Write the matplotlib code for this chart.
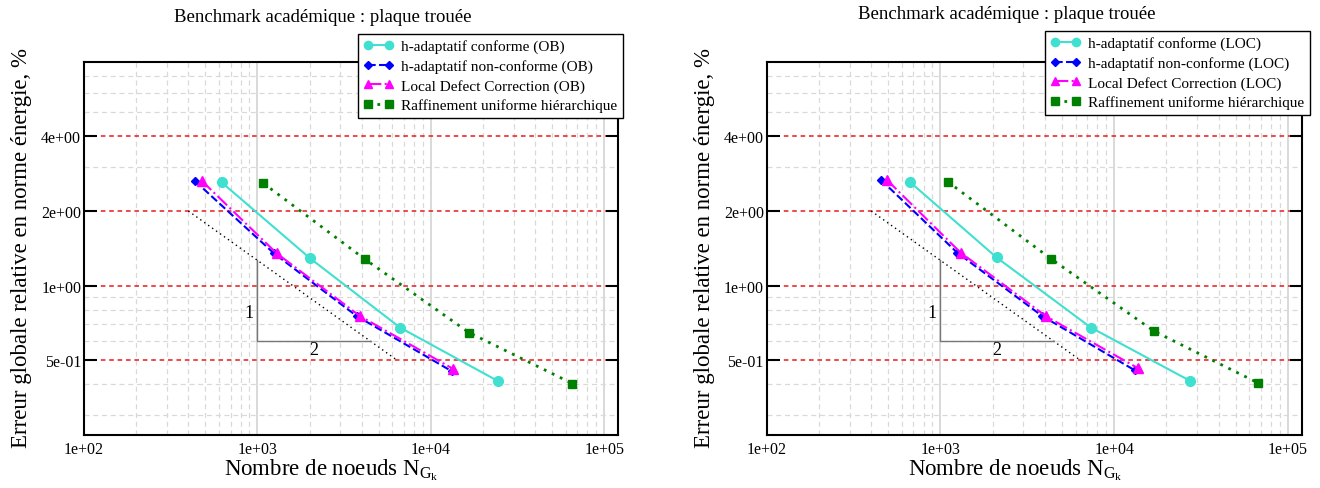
import numpy as np
import matplotlib
matplotlib.use('Agg')
import matplotlib.pyplot as plt
from matplotlib.ticker import FixedLocator, NullFormatter, FuncFormatter

plt.rcParams['font.family'] = ['Liberation Serif', 'DejaVu Serif']
plt.rcParams['mathtext.fontset'] = 'custom'
plt.rcParams['mathtext.rm'] = 'Liberation Serif'
plt.rcParams['mathtext.it'] = 'Liberation Serif:italic'

# Data (nodes, relative error in %)
# left panel : OB estimator
n_conf_ob = [622, 2010, 6640, 24300]
e_conf_ob = [2.61, 1.29, 0.678, 0.413]
n_nc_ob = [437, 1246, 3740, 13200]
e_nc_ob = [2.64, 1.35, 0.754, 0.452]
n_ldc_ob = [477, 1292, 3905, 13430]
e_ldc_ob = [2.65, 1.35, 0.754, 0.462]
n_unif_ob = [1081, 4170, 16600, 65500]
e_unif_ob = [2.59, 1.278, 0.647, 0.403]

# right panel : LOC estimator
n_conf_loc = [665, 2104, 7340, 27400]
e_conf_loc = [2.625, 1.30, 0.678, 0.413]
n_nc_loc = [455, 1248, 3860, 13200]
e_nc_loc = [2.67, 1.36, 0.754, 0.455]
n_ldc_loc = [492, 1306, 4040, 13700]
e_ldc_loc = [2.67, 1.36, 0.754, 0.465]
n_unif_loc = [1102, 4310, 17000, 67500]
e_unif_loc = [2.625, 1.286, 0.655, 0.405]

# slope 1/2 reference line and triangle
ref_n = [400, 6400]
ref_e = [2.0, 0.5]
tri_n = [1000, 1000, 4500]
tri_e = [1.27, 0.6, 0.6]

y_major = [0.5, 1, 2, 4]
y_minor = [0.3, 0.4, 0.6, 0.7, 0.8, 0.9, 3, 5, 6, 7]
x_major = [1e2, 1e3, 1e4, 1e5]
x_minor = [m * 10.0 ** k for k in (2, 3, 4) for m in range(2, 10)]

title = 'Benchmark académique : plaque trouée'
xlabel = r'Nombre de noeuds $\mathrm{N}_{\mathrm{G}_{\mathrm{k}}}$'
ylabel = 'Erreur globale relative en norme énergie, %'


def panel(ax, tag, data, leg_anchor, title_y):
    (nc, ec), (nn, en), (nl, el), (nu, eu) = data
    ax.set_xscale('log')
    ax.set_yscale('log')
    ax.set_xlim(100, 1.2e5)
    ax.set_ylim(0.25, 8)

    ax.xaxis.set_major_locator(FixedLocator(x_major))
    ax.xaxis.set_minor_locator(FixedLocator(x_minor))
    ax.yaxis.set_major_locator(FixedLocator(y_major))
    ax.yaxis.set_minor_locator(FixedLocator(y_minor))
    fmt = FuncFormatter(lambda v, p: '%.0e' % v)
    ax.xaxis.set_major_formatter(fmt)
    ax.yaxis.set_major_formatter(fmt)
    ax.xaxis.set_minor_formatter(NullFormatter())
    ax.yaxis.set_minor_formatter(NullFormatter())

    ax.grid(which='minor', axis='both', color='#d9d9d9', linestyle=(0, (4, 3)), lw=0.9)
    ax.grid(which='major', axis='x', color='#d9d9d9', linestyle='-', lw=1.4)
    ax.grid(which='major', axis='y', color='#e8191c', linestyle=(0, (3, 2.5)), lw=1.1)
    ax.set_axisbelow(True)

    ax.tick_params(axis='y', which='major', direction='in', length=9, width=1.5,
                   left=True, right=True, labelsize=11.5, pad=2)
    ax.tick_params(axis='x', which='major', length=0, labelsize=11.5, pad=4)
    ax.tick_params(which='minor', length=0)
    for s in ax.spines.values():
        s.set_linewidth(1.5)

    ax.plot(nc, ec, color='#40e0d0', lw=1.5, marker='o', ms=7,
            label='h-adaptatif conforme (%s)' % tag)
    ax.plot(nn, en, color='#0000ff', lw=1.5, ls='--', marker='D', ms=4.5,
            label='h-adaptatif non-conforme (%s)' % tag)
    ax.plot(nl, el, color='#ff00ff', lw=1.5, ls='-.', marker='^', ms=7,
            label='Local Defect Correction (%s)' % tag)
    ax.plot(nu, eu, color='#008000', lw=2, ls=(0, (1, 2.2)), marker='s', ms=6,
            label='Raffinement uniforme hiérarchique')

    ax.plot(ref_n, ref_e, color='black', lw=1, ls=(0, (1, 2.5)))
    ax.plot(tri_n, tri_e, color='#777777', lw=1)
    ax.text(900, 0.78, '1', fontsize=13, ha='center', va='center')
    ax.text(2100, 0.555, '2', fontsize=13, ha='center', va='center')

    leg = ax.legend(loc='upper right', bbox_to_anchor=leg_anchor, fontsize=11,
                    numpoints=2, handlelength=2.0, fancybox=False, framealpha=1,
                    edgecolor='black', borderpad=0.35, labelspacing=0.38,
                    handletextpad=0.5, borderaxespad=0, markerscale=0.85)
    leg.get_frame().set_linewidth(1.0)

    ax.text(0.448, title_y, title, transform=ax.transAxes, fontsize=13.5,
            ha='center', va='center')
    ax.text(0.464, -0.106, xlabel, transform=ax.transAxes, fontsize=16.5,
            ha='center', va='baseline')
    ax.text(-0.116, 0.504, ylabel, transform=ax.transAxes, fontsize=16.5,
            ha='center', va='center', rotation=90)


fig = plt.figure(figsize=(13.2, 4.89), dpi=100)
ax1 = fig.add_axes([0.0636, 0.1084, 0.4046, 0.7634])
ax2 = fig.add_axes([0.5808, 0.1084, 0.4053, 0.7634])

panel(ax1, 'OB',
      [(n_conf_ob, e_conf_ob), (n_nc_ob, e_nc_ob), (n_ldc_ob, e_ldc_ob), (n_unif_ob, e_unif_ob)],
      (1.009, 1.074), 1.122)
panel(ax2, 'LOC',
      [(n_conf_loc, e_conf_loc), (n_nc_loc, e_nc_loc), (n_ldc_loc, e_ldc_loc), (n_unif_loc, e_unif_loc)],
      (1.0155, 1.082), 1.128)

fig.savefig('out.png', dpi=100)
